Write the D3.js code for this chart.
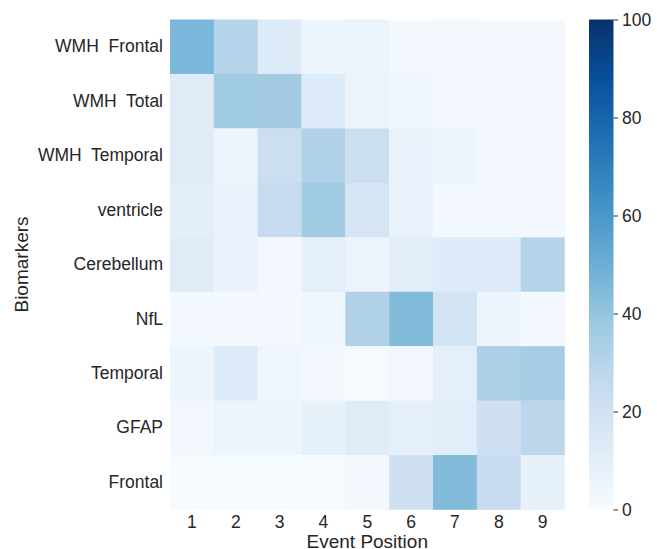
<!DOCTYPE html>
<html>
<head>
<meta charset="utf-8">
<script src="https://cdn.jsdelivr.net/npm/d3@7"></script>
<style>
  html, body { margin: 0; padding: 0; background: #fff; }
  svg { display: block; }
  text { font-family: "Liberation Sans", Arial, sans-serif; fill: #262626; }
</style>
</head>
<body>
<svg id="chart" width="657" height="549"></svg>
<script>
// Biomarkers (rows) and event positions (columns)
const biomarkers = ["WMH  Frontal", "WMH  Total", "WMH  Temporal", "ventricle",
                    "Cerebellum", "NfL", "Temporal", "GFAP", "Frontal"];
const positions = [1, 2, 3, 4, 5, 6, 7, 8, 9];

// Percentage of samples placing each biomarker at each event position
const wmhFrontal  = [46, 30, 13, 5, 6, 2, 3, 2, 2];
const wmhTotal    = [12, 37, 36, 13, 6, 4, 2, 2, 2];
const wmhTemporal = [12, 5, 22, 32, 22, 7, 5, 3, 2];
const ventricle   = [10, 7, 25, 37, 17, 7, 2, 2, 2];
const cerebellum  = [12, 7, 2, 9, 6, 10, 13, 13, 30];
const nfl         = [2, 2, 2, 4, 32, 44, 18, 5, 2];
const temporal    = [5, 13, 4, 2, 1, 3, 9, 33, 35];
const gfap        = [3, 5, 5, 8, 12, 9, 11, 21, 28];
const frontal     = [1, 1, 1, 1, 2, 21, 44, 25, 8];
const rows = [wmhFrontal, wmhTotal, wmhTemporal, ventricle, cerebellum, nfl, temporal, gfap, frontal];

const colorbarTicks = [0, 20, 40, 60, 80, 100];

// Matplotlib "Blues" colormap stops
const bluesStops = ["#f7fbff", "#deebf7", "#c6dbef", "#9ecae1", "#6baed6",
                    "#4292c6", "#2171b5", "#08519c", "#08306b"];

const svg = d3.select("#chart");
const plotLeft = 170, plotRight = 564.5, plotTop = 19.5, plotBottom = 509.5;

const x = d3.scaleBand().domain(positions).range([plotLeft, plotRight]).padding(0);
const y = d3.scaleBand().domain(biomarkers).range([plotTop, plotBottom]).padding(0);
const color = d3.scaleLinear()
  .domain(d3.range(bluesStops.length).map(i => i * 100 / (bluesStops.length - 1)))
  .range(bluesStops)
  .interpolate(d3.interpolateRgb)
  .clamp(true);

const cells = [];
rows.forEach((vals, r) => vals.forEach((v, c) => cells.push({ row: biomarkers[r], col: positions[c], v })));

svg.append("g").selectAll("rect").data(cells).join("rect")
  .attr("x", d => x(d.col))
  .attr("y", d => y(d.row))
  .attr("width", x.bandwidth() + 0.3)
  .attr("height", y.bandwidth() + 0.3)
  .attr("fill", d => color(d.v));

// Axes
const tickFont = "17.5px";
const xAxis = svg.append("g")
  .attr("transform", `translate(0,${plotBottom})`)
  .call(d3.axisBottom(x).tickSize(0).tickPadding(6));
xAxis.select(".domain").remove();
xAxis.selectAll("text").style("font-size", tickFont);

const yAxis = svg.append("g")
  .attr("transform", `translate(${plotLeft},0)`)
  .call(d3.axisLeft(y).tickSize(0).tickPadding(7));
yAxis.select(".domain").remove();
yAxis.selectAll("text").style("font-size", tickFont).style("white-space", "pre");

svg.append("text")
  .attr("x", (plotLeft + plotRight) / 2)
  .attr("y", 548)
  .attr("text-anchor", "middle")
  .style("font-size", "19px")
  .text("Event Position");

svg.append("text")
  .attr("transform", `translate(27.5,${(plotTop + plotBottom) / 2}) rotate(-90)`)
  .attr("text-anchor", "middle")
  .style("font-size", "19px")
  .text("Biomarkers");

// Colorbar
const cbLeft = 589, cbWidth = 24.5;
const cbScale = d3.scaleLinear().domain([0, 100]).range([plotBottom, plotTop]);
const defs = svg.append("defs");
const grad = defs.append("linearGradient").attr("id", "cbGrad")
  .attr("x1", 0).attr("y1", 1).attr("x2", 0).attr("y2", 0);
grad.selectAll("stop").data(bluesStops).join("stop")
  .attr("offset", (d, i) => i / (bluesStops.length - 1))
  .attr("stop-color", d => d);
svg.append("rect")
  .attr("x", cbLeft).attr("y", plotTop)
  .attr("width", cbWidth).attr("height", plotBottom - plotTop)
  .attr("fill", "url(#cbGrad)");

const cbAxis = svg.append("g")
  .attr("transform", `translate(${cbLeft + cbWidth},0)`)
  .call(d3.axisRight(cbScale).tickValues(colorbarTicks).tickSize(4.5).tickPadding(4));
cbAxis.select(".domain").remove();
cbAxis.selectAll("line").attr("stroke", "#262626").attr("stroke-width", 1);
cbAxis.selectAll("text").style("font-size", tickFont);
</script>
</body>
</html>
